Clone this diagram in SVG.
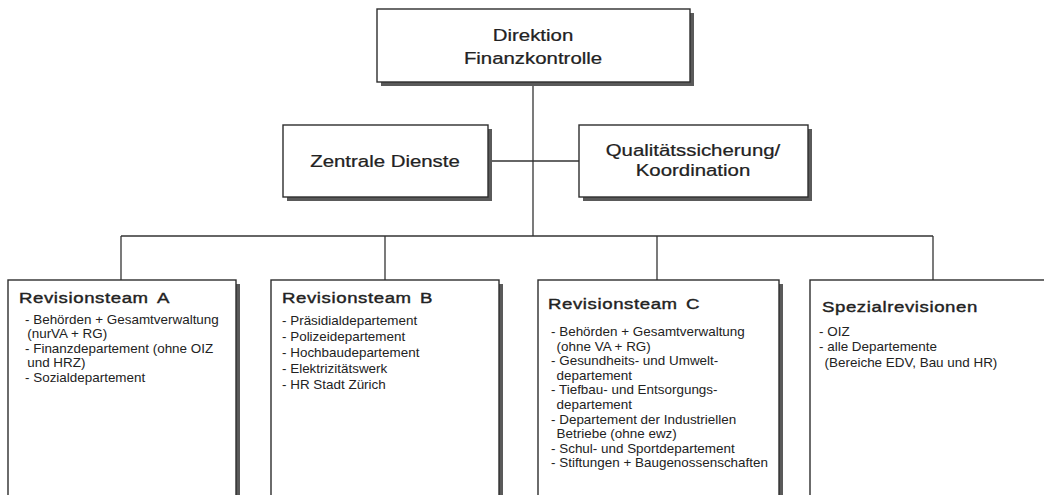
<svg xmlns="http://www.w3.org/2000/svg" width="1044" height="495" viewBox="0 0 1044 495">
  <defs>
    <style>
      .box { fill: #ffffff; stroke: #2e2e2e; stroke-width: 1.4; }
      .shadow { fill: #5a5a5a; }
      .conn { stroke: #333333; stroke-width: 1.3; fill: none; }
      .head { font-family: "Liberation Sans", Arial, sans-serif; font-size: 17px; fill: #222222; text-anchor: middle; stroke: #222222; stroke-width: 0.25; }
      .title { font-family: "Liberation Sans", Arial, sans-serif; font-size: 15.5px; letter-spacing: 0.5px; fill: #222222; stroke: #222222; stroke-width: 0.4; }
      .item { font-family: "Liberation Sans", Arial, sans-serif; font-size: 12px; fill: #222222; }
    </style>
  </defs>
  <rect width="1044" height="495" fill="#ffffff"/>

  <g id="connectors">
    <line class="conn" x1="533" y1="82" x2="533" y2="236"/>
    <line class="conn" x1="488" y1="161" x2="579" y2="161"/>
    <line class="conn" x1="121" y1="236" x2="933" y2="236"/>
    <line class="conn" x1="121" y1="236" x2="121" y2="280"/>
    <line class="conn" x1="385" y1="236" x2="385" y2="280"/>
    <line class="conn" x1="657" y1="236" x2="657" y2="280"/>
    <line class="conn" x1="933" y1="236" x2="933" y2="280"/>
  </g>

  <g id="direktion">
    <rect class="shadow" x="381" y="13" width="313" height="73"/>
    <rect class="box" x="377" y="9" width="313" height="73"/>
    <text class="head" transform="translate(533,41) scale(1.2,1)">Direktion</text>
    <text class="head" transform="translate(533,64) scale(1.2,1)">Finanzkontrolle</text>
  </g>

  <g id="zentrale-dienste">
    <rect class="shadow" x="287" y="129" width="205" height="72"/>
    <rect class="box" x="283" y="125" width="205" height="72"/>
    <text class="head" transform="translate(385,167) scale(1.2,1)">Zentrale Dienste</text>
  </g>

  <g id="qualitaetssicherung">
    <rect class="shadow" x="583" y="129" width="229" height="72"/>
    <rect class="box" x="579" y="125" width="229" height="72"/>
    <text class="head" transform="translate(693,156) scale(1.2,1)">Qualitätssicherung/</text>
    <text class="head" transform="translate(693,176) scale(1.2,1)">Koordination</text>
  </g>

  <g id="revisionsteam-a">
    <rect class="shadow" x="12" y="284" width="228" height="220"/>
    <rect class="box" x="8" y="280" width="228" height="220"/>
    <text class="title" transform="translate(19,303) scale(1.2,1)">Revisionsteam<tspan dx="7">A</tspan></text>
    <text class="item" transform="translate(25,324) scale(1.12,1)"><tspan x="0" dy="0">- Behörden + Gesamtverwaltung</tspan><tspan x="2" dy="14.5">(nurVA + RG)</tspan><tspan x="0" dy="14.5">- Finanzdepartement (ohne OIZ</tspan><tspan x="2" dy="14.5">und HRZ)</tspan><tspan x="0" dy="14.5">- Sozialdepartement</tspan></text>
  </g>

  <g id="revisionsteam-b">
    <rect class="shadow" x="275" y="284" width="228" height="220"/>
    <rect class="box" x="271" y="280" width="228" height="220"/>
    <text class="title" transform="translate(282,303) scale(1.2,1)">Revisionsteam<tspan dx="7">B</tspan></text>
    <text class="item" transform="translate(282,325) scale(1.12,1)"><tspan x="0" dy="0">- Präsidialdepartement</tspan><tspan x="0" dy="16">- Polizeidepartement</tspan><tspan x="0" dy="16">- Hochbaudepartement</tspan><tspan x="0" dy="16">- Elektrizitätswerk</tspan><tspan x="0" dy="16">- HR Stadt Zürich</tspan></text>
  </g>

  <g id="revisionsteam-c">
    <rect class="shadow" x="542" y="284" width="241" height="220"/>
    <rect class="box" x="538" y="280" width="241" height="220"/>
    <text class="title" transform="translate(548,309) scale(1.2,1)">Revisionsteam<tspan dx="7">C</tspan></text>
    <text class="item" transform="translate(551,336) scale(1.12,1)"><tspan x="0" dy="0">- Behörden + Gesamtverwaltung</tspan><tspan x="5" dy="14.6">(ohne VA + RG)</tspan><tspan x="0" dy="14.6">- Gesundheits- und Umwelt-</tspan><tspan x="5" dy="14.6">departement</tspan><tspan x="0" dy="14.6">- Tiefbau- und Entsorgungs-</tspan><tspan x="5" dy="14.6">departement</tspan><tspan x="0" dy="14.6">- Departement der Industriellen</tspan><tspan x="5" dy="14.6">Betriebe (ohne ewz)</tspan><tspan x="0" dy="14.6">- Schul- und Sportdepartement</tspan><tspan x="0" dy="14.6">- Stiftungen + Baugenossenschaften</tspan></text>
  </g>

  <g id="spezialrevisionen">
    <rect class="shadow" x="814" y="284" width="246" height="220"/>
    <rect class="box" x="810" y="280" width="246" height="220"/>
    <text class="title" transform="translate(822,312) scale(1.2,1)">Spezialrevisionen</text>
    <text class="item" transform="translate(819,336) scale(1.12,1)"><tspan x="0" dy="0">- OIZ</tspan><tspan x="0" dy="15.5">- alle Departemente</tspan><tspan x="5" dy="15.5">(Bereiche EDV, Bau und HR)</tspan></text>
  </g>
</svg>
